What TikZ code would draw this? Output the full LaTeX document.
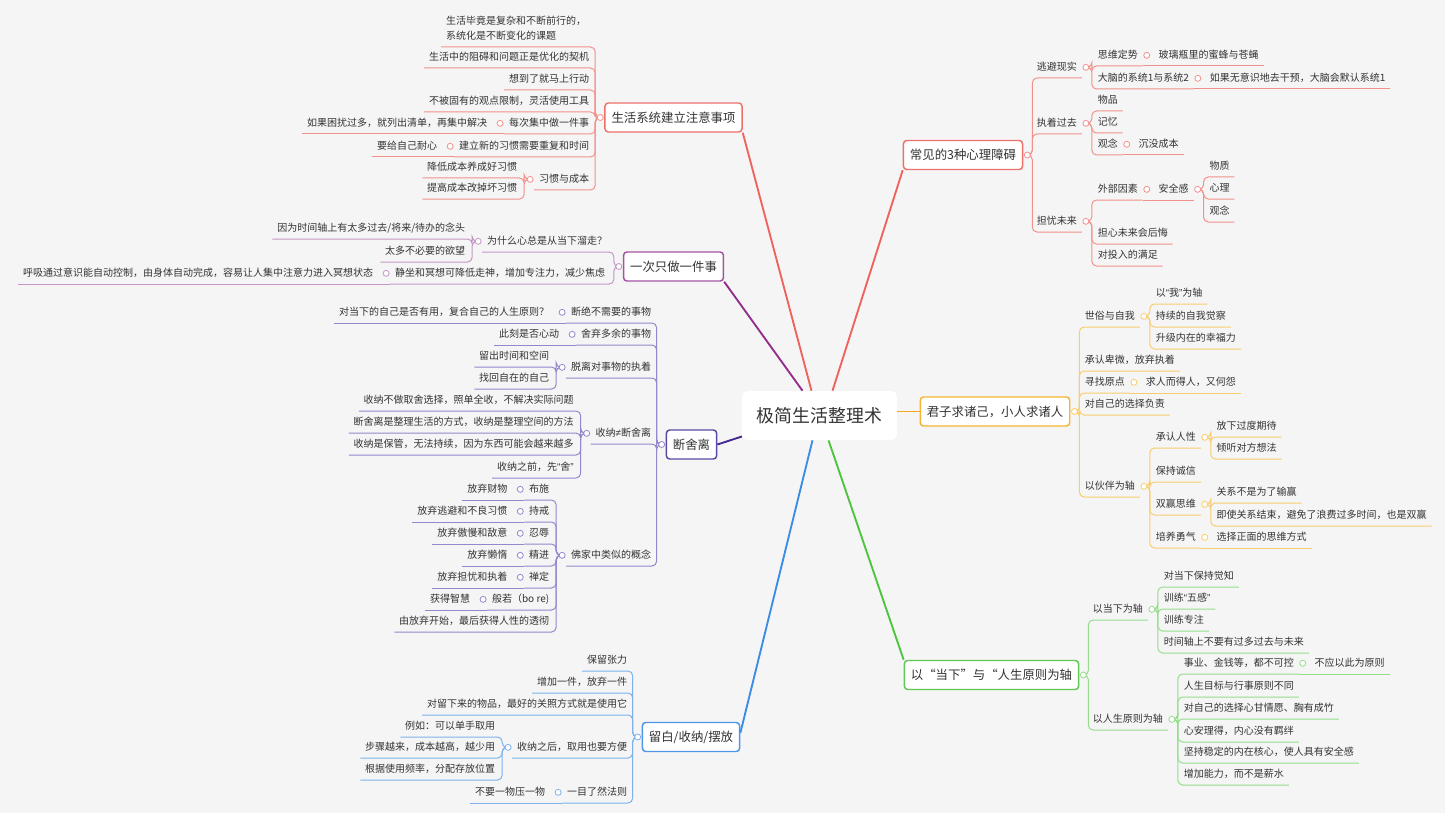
\documentclass[tikz,border=0pt]{standalone}
\usepackage{fontspec}
\setmainfont{Noto Sans CJK SC}
\newfontfamily\latinfont{Liberation Sans}
\newcommand{\qo}{{\latinfont “}}
\newcommand{\qc}{{\latinfont ”}}
\usetikzlibrary{calc,positioning}
\definecolor{bgGray}{RGB}{245,245,245}
\definecolor{inkGray}{RGB}{51,51,51}
\definecolor{redTrunk}{RGB}{240,98,92}
\definecolor{redBox}{RGB}{238,112,106}
\definecolor{redLine}{RGB}{242,145,140}
\definecolor{purpleTrunk}{RGB}{145,45,140}
\definecolor{purpleBox}{RGB}{165,85,160}
\definecolor{purpleLine}{RGB}{196,150,198}
\definecolor{indigoTrunk}{RGB}{68,38,148}
\definecolor{indigoBox}{RGB}{92,72,165}
\definecolor{indigoLine}{RGB}{150,135,205}
\definecolor{blueTrunk}{RGB}{58,140,228}
\definecolor{blueBox}{RGB}{78,150,230}
\definecolor{blueLine}{RGB}{125,178,236}
\definecolor{orangeTrunk}{RGB}{246,168,28}
\definecolor{orangeBox}{RGB}{246,180,50}
\definecolor{orangeLine}{RGB}{249,205,110}
\definecolor{greenTrunk}{RGB}{78,196,62}
\definecolor{greenBox}{RGB}{98,200,84}
\definecolor{greenLine}{RGB}{148,222,138}
\pgfdeclarelayer{bg}
\pgfsetlayers{bg,main}
\tikzset{
  txt/.style={font=\fontsize{7.5}{11.25}\selectfont,text=inkGray,inner xsep=3.5pt},
  leafL/.style={txt,anchor=south east,inner ysep=4pt,text height=6.2pt,text depth=1.4pt},
  leafR/.style={leafL,anchor=south west},
  chainL/.style={leafL,anchor=east},
  chainR/.style={leafL,anchor=west},
  fold/.style={circle,draw=#1,fill=white,line width=0.6pt,inner sep=0pt,minimum size=4.5pt},
  ln/.style={draw=#1,line width=0.75pt,rounded corners=3.5pt},
  trunk/.style={draw=#1,line width=1.4pt},
  branch/.style={draw=#1,fill=white,line width=1.1pt,rounded corners=2.5pt,font=\fontsize{9.3}{11}\selectfont,text=inkGray,inner xsep=4.9pt,inner ysep=0pt,minimum height=21.75pt},
  hub/.style={fill=white,rounded corners=4pt,minimum width=116pt,minimum height=36.75pt,font=\fontsize{13.4}{16}\selectfont,text=inkGray},
}
\begin{document}
\begin{tikzpicture}[x=0.75pt,y=-0.75pt]
\useasboundingbox (0,0) rectangle (1445,813);
\begin{pgfonlayer}{bg}
  \fill[bgGray] (0,0) rectangle (1445,813);
\end{pgfonlayer}

\node[hub] (hub) at (819.5,415.5) {极简生活整理术};
\node[branch=redBox] (b1) at (673.5,117.5) {生活系统建立注意事项};
\node[branch=purpleBox] (b2) at (673.5,266.5) {一次只做一件事};
\node[branch=indigoBox] (b3) at (691.5,444.5) {断舍离};
\node[branch=blueBox] (b4) at (691,737) {留白/收纳/摆放};
\node[branch=redBox] (b5) at (963,155) {常见的3种心理障碍};
\node[branch=orangeBox] (b6) at (995,411.5) {君子求诸己，小人求诸人};
\node[branch=greenBox] (b7) at (991.5,675) {以“当下”与“人生原则为轴};
\begin{pgfonlayer}{bg}
  \draw[trunk=redTrunk] ($(hub.north)+(-8,0)$) -- (b1.south east);
  \draw[trunk=purpleTrunk] ($(hub.north)+(-17,0)$) -- (b2.south east);
  \draw[trunk=indigoTrunk] ($(hub.west)+(0,21)$) -- (b3.east);
  \draw[trunk=blueTrunk] ($(hub.south)+(-7,0)$) -- ($(b4.east)+(0,-4)$);
  \draw[trunk=redTrunk] ($(hub.north)+(13,0)$) -- (b5.south west);
  \draw[trunk=orangeTrunk] (hub.east |- b6.west) -- (b6.west);
  \draw[trunk=greenTrunk] ($(hub.south)+(9,0)$) -- (b7.north west);
\end{pgfonlayer}

\node[fold=redLine] (mb1) at ($(b1.west)+(-4,0)$) {};
\coordinate (sb1) at ($(mb1)+(-5,0)$);
\node[txt,align=left,anchor=south east,inner ysep=4.5pt] (a1) at (591,47) {生活毕竟是复杂和不断前行的，\\系统化是不断变化的课题};
\node[leafL] (a2) at (594,68) {生活中的阻碍和问题正是优化的契机};
\node[leafL] (a3) at (594,90) {想到了就马上行动};
\node[leafL] (a4) at (594,112) {不被固有的观点限制，灵活使用工具};
\node[leafL] (a5) at (594,134) {每次集中做一件事};
\node[fold=redLine] (ma5) at ($(a5.west)+(-4,0)$) {};
\node[chainL] (a51) at ($(ma5)+(-8,0)$) {如果困扰过多，就列出清单，再集中解决};
\node[leafL] (a6) at (594,157) {建立新的习惯需要重复和时间};
\node[fold=redLine] (ma6) at ($(a6.west)+(-4,0)$) {};
\node[chainL] (a61) at ($(ma6)+(-8,0)$) {要给自己耐心};
\node[leafL] (a7) at (594,190) {习惯与成本};
\node[fold=redLine] (ma7) at ($(a7.west)+(-4,0)$) {};
\coordinate (sa7) at ($(ma7)+(-6,0)$);
\node[chainL] (a71) at ($(ma7)+(-8,-12)$) {降低成本养成好习惯};
\node[chainL] (a72) at ($(ma7)+(-8,9)$) {提高成本改掉坏习惯};
\begin{pgfonlayer}{bg}
  \foreach \kid in {a1,a2,a3,a4,a5,a6,a7}
    \draw[ln=redLine] (mb1) -- (sb1) |- (\kid.south west);
  \foreach \kid in {a5,a6}
    \draw[ln=redLine] (\kid.south west) -- (\kid1.south west);
  \foreach \kid in {a71,a72}
    \draw[ln=redLine] (ma7) -- (sa7) |- (\kid.south west);
\end{pgfonlayer}

\node[fold=purpleLine] (mb2) at ($(b2.west)+(-4,0)$) {};
\coordinate (sb2) at ($(mb2)+(-5,0)$);
\node[leafL] (p1) at (612,252) {为什么心总是从当下溜走？};
\node[fold=purpleLine] (mp1) at ($(p1.west)+(-4,0)$) {};
\coordinate (sp1) at ($(mp1)+(-6,0)$);
\node[chainL] (p11) at ($(mp1)+(-8,-13)$) {因为时间轴上有太多过去/将来/待办的念头};
\node[chainL] (p12) at ($(mp1)+(-8,10)$) {太多不必要的欲望};
\node[leafL] (p2) at (610,284) {静坐和冥想可降低走神，增加专注力，减少焦虑};
\node[fold=purpleLine] (mp2) at ($(p2.west)+(-4,0)$) {};
\node[chainL] (p21) at ($(mp2)+(-8,0)$) {呼吸通过意识能自动控制，由身体自动完成，容易让人集中注意力进入冥想状态};
\begin{pgfonlayer}{bg}
  \foreach \kid in {p1,p2}
    \draw[ln=purpleLine] (mb2) -- (sb2) |- (\kid.south west);
  \foreach \kid in {p11,p12}
    \draw[ln=purpleLine] (mp1) -- (sp1) |- (\kid.south west);
  \draw[ln=purpleLine] (p2.south west) -- (p21.south west);
\end{pgfonlayer}

\node[fold=indigoLine] (mb3) at ($(b3.west)+(-4,0)$) {};
\coordinate (sb3) at ($(mb3)+(-5,0)$);
\node[leafL] (q1) at (656,323) {断绝不需要的事物};
\node[fold=indigoLine] (mq1) at ($(q1.west)+(-4,0)$) {};
\node[chainL] (q11) at ($(mq1)+(-8,0)$) {对当下的自己是否有用，复合自己的人生原则？};
\node[leafL] (q2) at (656,345) {舍弃多余的事物};
\node[fold=indigoLine] (mq2) at ($(q2.west)+(-4,0)$) {};
\node[chainL] (q21) at ($(mq2)+(-8,0)$) {此刻是否心动};
\node[leafL] (q3) at (656,378) {脱离对事物的执着};
\node[fold=indigoLine] (mq3) at ($(q3.west)+(-4,0)$) {};
\coordinate (sq3) at ($(mq3)+(-6,0)$);
\node[chainL] (q31) at ($(mq3)+(-8,-11)$) {留出时间和空间};
\node[chainL] (q32) at ($(mq3)+(-8,11)$) {找回自在的自己};
\node[leafL] (q4) at (656,444) {收纳{\latinfont ≠}断舍离};
\node[fold=indigoLine] (mq4) at ($(q4.west)+(-4,0)$) {};
\coordinate (sq4) at ($(mq4)+(-6,0)$);
\node[chainL] (q41) at ($(mq4)+(-8,-33)$) {收纳不做取舍选择，照单全收，不解决实际问题};
\node[chainL] (q42) at ($(mq4)+(-8,-11)$) {断舍离是整理生活的方式，收纳是整理空间的方法};
\node[chainL] (q43) at ($(mq4)+(-8,11)$) {收纳是保管，无法持续，因为东西可能会越来越多};
\node[chainL] (q44) at ($(mq4)+(-8,34)$) {收纳之前，先\qo{}舍\qc{}};
\node[leafL] (q5) at (656,566) {佛家中类似的概念};
\node[fold=indigoLine] (mq5) at ($(q5.west)+(-4,0)$) {};
\coordinate (sq5) at ($(mq5)+(-6,0)$);
\node[chainL] (q51) at ($(mq5)+(-8,-66)$) {布施};
\node[chainL] (q52) at ($(mq5)+(-8,-44)$) {持戒};
\node[chainL] (q53) at ($(mq5)+(-8,-22)$) {忍辱};
\node[chainL] (q54) at ($(mq5)+(-8,0)$) {精进};
\node[chainL] (q55) at ($(mq5)+(-8,22)$) {禅定};
\node[chainL] (q56) at ($(mq5)+(-8,44)$) {般若（bo re)};
\node[chainL] (q57) at ($(mq5)+(-8,66)$) {由放弃开始，最后获得人性的透彻};
\foreach \kid/\say in {q51/放弃财物,q52/放弃逃避和不良习惯,q53/放弃傲慢和敌意,q54/放弃懒惰,q55/放弃担忧和执着,q56/获得智慧}{
  \node[fold=indigoLine] (m\kid) at ($(\kid.west)+(-4,0)$) {};
  \node[chainL] (\kid1) at ($(m\kid)+(-8,0)$) {\say};
}
\begin{pgfonlayer}{bg}
  \foreach \kid in {q1,q2,q3,q4,q5}
    \draw[ln=indigoLine] (mb3) -- (sb3) |- (\kid.south west);
  \foreach \kid in {q1,q2,q51,q52,q53,q54,q55,q56}
    \draw[ln=indigoLine] (\kid.south west) -- (\kid1.south west);
  \foreach \kid in {q31,q32}
    \draw[ln=indigoLine] (mq3) -- (sq3) |- (\kid.south west);
  \foreach \kid in {q41,q42,q43,q44}
    \draw[ln=indigoLine] (mq4) -- (sq4) |- (\kid.south west);
  \foreach \kid in {q51,q52,q53,q54,q55,q56,q57}
    \draw[ln=indigoLine] (mq5) -- (sq5) |- (\kid.south west);
\end{pgfonlayer}

\node[fold=blueLine] (mb4) at ($(b4.west)+(-4,0)$) {};
\coordinate (sb4) at ($(mb4)+(-5,0)$);
\node[leafL] (r1) at (632,671) {保留张力};
\node[leafL] (r2) at (632,693) {增加一件，放弃一件};
\node[leafL] (r3) at (632,715) {对留下来的物品，最好的关照方式就是使用它};
\node[leafL] (r4) at (632,758) {收纳之后，取用也要方便};
\node[fold=blueLine] (mr4) at ($(r4.west)+(-4,0)$) {};
\coordinate (sr4) at ($(mr4)+(-6,0)$);
\node[chainL] (r41) at ($(mr4)+(-8,-21)$) {例如：可以单手取用};
\node[chainL] (r42) at ($(mr4)+(-8,0)$) {步骤越来，成本越高，越少用};
\node[chainL] (r43) at ($(mr4)+(-8,22)$) {根据使用频率，分配存放位置};
\node[leafL] (r5) at (632,803) {一目了然法则};
\node[fold=blueLine] (mr5) at ($(r5.west)+(-4,0)$) {};
\node[chainL] (r51) at ($(mr5)+(-8,0)$) {不要一物压一物};
\begin{pgfonlayer}{bg}
  \foreach \kid in {r1,r2,r3,r4,r5}
    \draw[ln=blueLine] (mb4) -- (sb4) |- (\kid.south west);
  \foreach \kid in {r41,r42,r43}
    \draw[ln=blueLine] (mr4) -- (sr4) |- (\kid.south west);
  \draw[ln=blueLine] (r5.south west) -- (r51.south west);
\end{pgfonlayer}

\node[fold=redLine] (mb5) at ($(b5.east)+(4,0)$) {};
\coordinate (sb5) at ($(mb5)+(5,0)$);
\node[leafR] (d1) at (1032,78) {逃避现实};
\node[fold=redLine] (md1) at ($(d1.east)+(4,0)$) {};
\coordinate (sd1) at ($(md1)+(6,0)$);
\node[chainR] (d11) at ($(md1)+(7,-12)$) {思维定势};
\node[chainR] (d12) at ($(md1)+(7,11)$) {大脑的系统1与系统2};
\node[leafR] (d2) at (1032,134) {执着过去};
\node[fold=redLine] (md2) at ($(d2.east)+(4,0)$) {};
\coordinate (sd2) at ($(md2)+(6,0)$);
\node[chainR] (d21) at ($(md2)+(7,-23)$) {物品};
\node[chainR] (d22) at ($(md2)+(7,-1)$) {记忆};
\node[chainR] (d23) at ($(md2)+(7,21)$) {观念};
\node[leafR] (d3) at (1032,232) {担忧未来};
\node[fold=redLine] (md3) at ($(d3.east)+(4,0)$) {};
\coordinate (sd3) at ($(md3)+(6,0)$);
\node[chainR] (d31) at ($(md3)+(7,-32)$) {外部因素};
\node[chainR] (d32) at ($(md3)+(7,12)$) {担心未来会后悔};
\node[chainR] (d33) at ($(md3)+(7,34)$) {对投入的满足};
\foreach \kid/\say in {d11/玻璃瓶里的蜜蜂与苍蝇,d12/如果无意识地去干预，大脑会默认系统1,d23/沉没成本,d31/安全感}{
  \node[fold=redLine] (m\kid) at ($(\kid.east)+(4,0)$) {};
  \node[chainR] (\kid1) at ($(m\kid)+(7,0)$) {\say};
}
\node[fold=redLine] (md311) at ($(d311.east)+(4,0)$) {};
\coordinate (sd311) at ($(md311)+(6,0)$);
\node[chainR] (d3111) at ($(md311)+(7,-23)$) {物质};
\node[chainR] (d3112) at ($(md311)+(7,-1)$) {心理};
\node[chainR] (d3113) at ($(md311)+(7,22)$) {观念};
\begin{pgfonlayer}{bg}
  \foreach \kid in {d1,d2,d3}
    \draw[ln=redLine] (mb5) -- (sb5) |- (\kid.south east);
  \foreach \kid in {d11,d12}
    \draw[ln=redLine] (md1) -- (sd1) |- (\kid.south east);
  \foreach \kid in {d21,d22,d23}
    \draw[ln=redLine] (md2) -- (sd2) |- (\kid.south east);
  \foreach \kid in {d31,d32,d33}
    \draw[ln=redLine] (md3) -- (sd3) |- (\kid.south east);
  \foreach \kid in {d11,d12,d23,d31}
    \draw[ln=redLine] (\kid.south east) -- (\kid1.south east);
  \foreach \kid in {d3111,d3112,d3113}
    \draw[ln=redLine] (md311) -- (sd311) |- (\kid.south east);
\end{pgfonlayer}

\node[fold=orangeLine] (mb6) at ($(b6.east)+(4,0)$) {};
\coordinate (sb6) at ($(mb6)+(5,0)$);
\node[leafR] (e1) at (1080,327) {世俗与自我};
\node[fold=orangeLine] (me1) at ($(e1.east)+(4,0)$) {};
\coordinate (se1) at ($(me1)+(6,0)$);
\node[chainR] (e11) at ($(me1)+(7,-23)$) {以\qo{}我\qc{}为轴};
\node[chainR] (e12) at ($(me1)+(7,0)$) {持续的自我觉察};
\node[chainR] (e13) at ($(me1)+(7,22)$) {升级内在的幸福力};
\node[leafR] (e2) at (1080,371) {承认卑微，放弃执着};
\node[leafR] (e3) at (1080,393) {寻找原点};
\node[fold=orangeLine] (me3) at ($(e3.east)+(4,0)$) {};
\node[chainR] (e31) at ($(me3)+(7,0)$) {求人而得人，又何怨};
\node[leafR] (e4) at (1080,415) {对自己的选择负责};
\node[leafR] (e5) at (1080,497) {以伙伴为轴};
\node[fold=orangeLine] (me5) at ($(e5.east)+(4,0)$) {};
\coordinate (se5) at ($(me5)+(6,0)$);
\node[chainR] (e51) at ($(me5)+(7,-49)$) {承认人性};
\node[chainR] (e52) at ($(me5)+(7,-15)$) {保持诚信};
\node[chainR] (e53) at ($(me5)+(7,18)$) {双赢思维};
\node[chainR] (e54) at ($(me5)+(7,51)$) {培养勇气};
\node[fold=orangeLine] (me51) at ($(e51.east)+(4,0)$) {};
\coordinate (se51) at ($(me51)+(6,0)$);
\node[chainR] (e511) at ($(me51)+(7,-11)$) {放下过度期待};
\node[chainR] (e512) at ($(me51)+(7,11)$) {倾听对方想法};
\node[fold=orangeLine] (me53) at ($(e53.east)+(4,0)$) {};
\coordinate (se53) at ($(me53)+(6,0)$);
\node[chainR] (e531) at ($(me53)+(7,-12)$) {关系不是为了输赢};
\node[chainR] (e532) at ($(me53)+(7,11)$) {即使关系结束，避免了浪费过多时间，也是双赢};
\node[fold=orangeLine] (me54) at ($(e54.east)+(4,0)$) {};
\node[chainR] (e541) at ($(me54)+(7,0)$) {选择正面的思维方式};
\begin{pgfonlayer}{bg}
  \foreach \kid in {e1,e2,e3,e4,e5}
    \draw[ln=orangeLine] (mb6) -- (sb6) |- (\kid.south east);
  \foreach \kid in {e11,e12,e13}
    \draw[ln=orangeLine] (me1) -- (se1) |- (\kid.south east);
  \foreach \kid in {e51,e52,e53,e54}
    \draw[ln=orangeLine] (me5) -- (se5) |- (\kid.south east);
  \foreach \kid in {e511,e512}
    \draw[ln=orangeLine] (me51) -- (se51) |- (\kid.south east);
  \foreach \kid in {e531,e532}
    \draw[ln=orangeLine] (me53) -- (se53) |- (\kid.south east);
  \foreach \kid in {e3,e54}
    \draw[ln=orangeLine] (\kid.south east) -- (\kid1.south east);
\end{pgfonlayer}

\node[fold=greenLine] (mb7) at ($(b7.east)+(4,0)$) {};
\coordinate (sb7) at ($(mb7)+(5,0)$);
\node[leafR] (f1) at (1088,620) {以当下为轴};
\node[fold=greenLine] (mf1) at ($(f1.east)+(4,0)$) {};
\coordinate (sf1) at ($(mf1)+(6,0)$);
\node[chainR] (f11) at ($(mf1)+(7,-33)$) {对当下保持觉知};
\node[chainR] (f12) at ($(mf1)+(7,-11)$) {训练\qo{}五感\qc{}};
\node[chainR] (f13) at ($(mf1)+(7,11)$) {训练专注};
\node[chainR] (f14) at ($(mf1)+(7,33)$) {时间轴上不要有过多过去与未来};
\node[leafR] (f2) at (1088,730) {以人生原则为轴};
\node[fold=greenLine] (mf2) at ($(f2.east)+(4,0)$) {};
\coordinate (sf2) at ($(mf2)+(6,0)$);
\node[chainR] (f21) at ($(mf2)+(7,-56)$) {事业、金钱等，都不可控};
\node[fold=greenLine] (mf21) at ($(f21.east)+(4,0)$) {};
\node[chainR] (f211) at ($(mf21)+(7,0)$) {不应以此为原则};
\node[chainR] (f22) at ($(mf2)+(7,-33)$) {人生目标与行事原则不同};
\node[chainR] (f23) at ($(mf2)+(7,-11)$) {对自己的选择心甘情愿、胸有成竹};
\node[chainR] (f24) at ($(mf2)+(7,12)$) {心安理得，内心没有羁绊};
\node[chainR] (f25) at ($(mf2)+(7,33)$) {坚持稳定的内在核心，使人具有安全感};
\node[chainR] (f26) at ($(mf2)+(7,55)$) {增加能力，而不是薪水};
\begin{pgfonlayer}{bg}
  \foreach \kid in {f1,f2}
    \draw[ln=greenLine] (mb7) -- (sb7) |- (\kid.south east);
  \foreach \kid in {f11,f12,f13,f14}
    \draw[ln=greenLine] (mf1) -- (sf1) |- (\kid.south east);
  \foreach \kid in {f21,f22,f23,f24,f25,f26}
    \draw[ln=greenLine] (mf2) -- (sf2) |- (\kid.south east);
  \draw[ln=greenLine] (f21.south east) -- (f211.south east);
\end{pgfonlayer}
\end{tikzpicture}
\end{document}
